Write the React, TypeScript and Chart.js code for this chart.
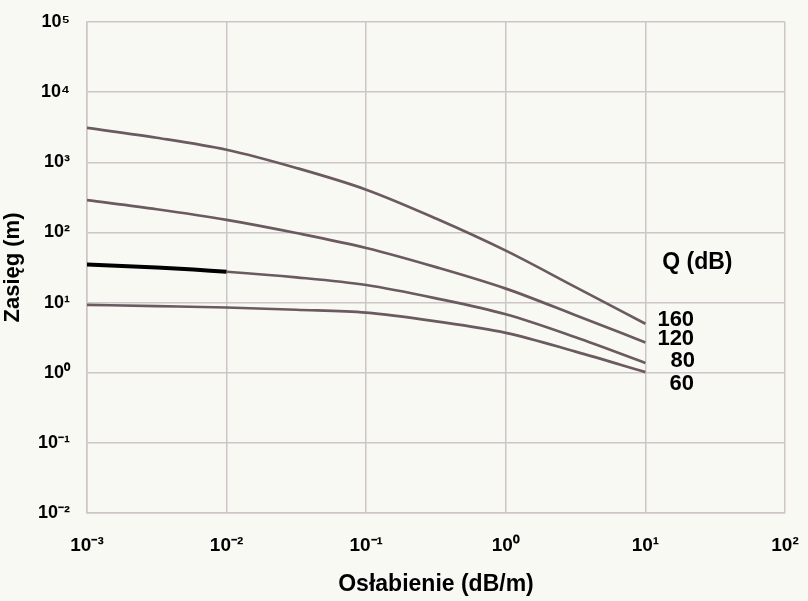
import { useEffect, useRef } from "react";
import { Chart, registerables } from "chart.js";

Chart.register(...registerables);

// Attenuation (dB/m) sample points, log-spaced
const attenuation = [0.001, 0.00316, 0.01, 0.0316, 0.1, 0.316, 1, 3.16, 10];
// Range (m) for each Q (dB)
const rangeQ160 = [3090, 2240, 1510, 830, 407, 158, 55, 16.6, 5.0];
const rangeQ120 = [288, 214, 151, 98, 60, 32, 15.8, 6.6, 2.7];
const rangeQ80 = [35, 31.6, 27.5, 22.9, 17.8, 11.5, 6.8, 3.2, 1.38];
const rangeQ60 = [9.3, 8.9, 8.5, 7.9, 7.2, 5.4, 3.7, 2.0, 1.02];
const seriesLabels = ["160", "120", "80", "60"];
const legendTitle = "Q (dB)";

const xTickValues = [1e-3, 1e-2, 1e-1, 1e0, 1e1, 1e2];
const xTickLabels = ["10⁻³", "10⁻²", "10⁻¹", "10⁰", "10¹", "10²"];
const yTickValues = [1e-2, 1e-1, 1e0, 1e1, 1e2, 1e3, 1e4, 1e5];
const yTickLabels = ["10⁻²", "10⁻¹", "10⁰", "10¹", "10²", "10³", "10⁴", "10⁵"];

const FONT = "'Liberation Sans', Arial, Helvetica, sans-serif";
const BG = "#f9f9f4";
const GRID = "#cdc5c8";
const LINE = "#6b5a60";

export default function App() {
  const ref = useRef<HTMLCanvasElement | null>(null);

  useEffect(() => {
    document.body.style.background = BG;
    const canvas = ref.current;
    if (!canvas) return;

    const series = [rangeQ160, rangeQ120, rangeQ80, rangeQ60];
    const labelDx = [12, 12, 25, 24];
    const labelDy = [-4, -4, -2, 12];

    const bgPlugin = {
      id: "bg",
      beforeDraw(chart: any) {
        const c = chart.ctx;
        c.save();
        c.fillStyle = BG;
        c.fillRect(0, 0, chart.width, chart.height);
        c.restore();
      },
    };

    const labelPlugin = {
      id: "seriesLabels",
      afterDatasetsDraw(chart: any) {
        const c = chart.ctx;
        c.save();
        c.fillStyle = "#000";
        c.font = `bold 22px ${FONT}`;
        c.textBaseline = "middle";
        c.textAlign = "left";
        let firstY = 0;
        let firstX = 0;
        chart.data.datasets.forEach((ds: any, i: number) => {
          const meta = chart.getDatasetMeta(i);
          const pt = meta.data[meta.data.length - 1];
          const x = pt.x + labelDx[i];
          const y = pt.y + labelDy[i];
          if (i === 0) {
            firstY = y;
            firstX = pt.x;
          }
          c.fillText(ds.label, x, y);
        });
        c.textAlign = "center";
        c.font = `bold 23px ${FONT}`;
        c.fillText(legendTitle, firstX + 52, firstY - 57);
        c.restore();
      },
    };

    const chart = new Chart(canvas, {
      type: "line",
      data: {
        datasets: series.map((vals, i) => ({
          label: seriesLabels[i],
          data: attenuation.map((x, j) => ({ x, y: vals[j] })),
          borderColor: LINE,
          borderWidth: 2.7,
          pointRadius: 0,
          cubicInterpolationMode: "monotone" as const,
          fill: false,
          segment:
            i === 2
              ? {
                  borderColor: (ctx: any) => (ctx.p1.parsed.x <= 0.0101 ? "#000" : LINE),
                  borderWidth: (ctx: any) => (ctx.p1.parsed.x <= 0.0101 ? 4 : 2.7),
                }
              : undefined,
        })),
      },
      options: {
        animation: false,
        responsive: false,
        layout: { padding: { top: 22, right: 23, left: 0, bottom: 0 } },
        plugins: {
          legend: { display: false },
          tooltip: { enabled: false },
        },
        scales: {
          x: {
            type: "logarithmic",
            min: 1e-3,
            max: 1e2,
            afterBuildTicks: (s: any) => {
              s.ticks = xTickValues.map((v) => ({ value: v }));
            },
            afterFit: (s: any) => {
              s.height = 88;
              s.paddingLeft = 0;
              s.paddingRight = 0;
              s.paddingTop = 0;
              s.paddingBottom = 0;
            },
            ticks: {
              autoSkip: false,
              maxRotation: 0,
              padding: 21,
              color: "#000",
              font: { family: FONT, size: 19, weight: "bold" },
              callback: (v: any) => {
                const i = xTickValues.findIndex((t) => Math.abs(Math.log10(t) - Math.log10(v)) < 1e-6);
                return i >= 0 ? xTickLabels[i] : "";
              },
            },
            grid: { color: GRID, lineWidth: 1.5, drawTicks: false },
            border: { color: GRID, width: 1.5 },
            title: {
              display: true,
              text: "Osłabienie (dB/m)",
              color: "#000",
              font: { family: FONT, size: 23, weight: "bold" },
              padding: { top: 0, bottom: 3 },
            },
          },
          y: {
            type: "logarithmic",
            min: 1e-2,
            max: 1e5,
            afterBuildTicks: (s: any) => {
              s.ticks = yTickValues.map((v) => ({ value: v }));
            },
            afterFit: (s: any) => {
              s.width = 87;
              s.paddingLeft = 0;
              s.paddingRight = 0;
              s.paddingTop = 0;
              s.paddingBottom = 0;
            },
            ticks: {
              autoSkip: false,
              padding: 17,
              color: "#000",
              font: { family: FONT, size: 18, weight: "bold" },
              callback: (v: any) => {
                const i = yTickValues.findIndex((t) => Math.abs(Math.log10(t) - Math.log10(v)) < 1e-6);
                return i >= 0 ? yTickLabels[i] : "";
              },
            },
            grid: { color: GRID, lineWidth: 1.5, drawTicks: false },
            border: { color: GRID, width: 1.5 },
            title: {
              display: true,
              text: "Zasięg (m)",
              color: "#000",
              font: { family: FONT, size: 22, weight: "bold" },
              padding: { top: 0, bottom: 0 },
            },
          },
        },
      },
      plugins: [bgPlugin, labelPlugin],
    });

    return () => chart.destroy();
  }, []);

  return (
    <div style={{ position: "absolute", left: 0, top: 0, width: 808, height: 601 }}>
      <canvas ref={ref} width={808} height={601} style={{ display: "block" }} />
    </div>
  );
}
